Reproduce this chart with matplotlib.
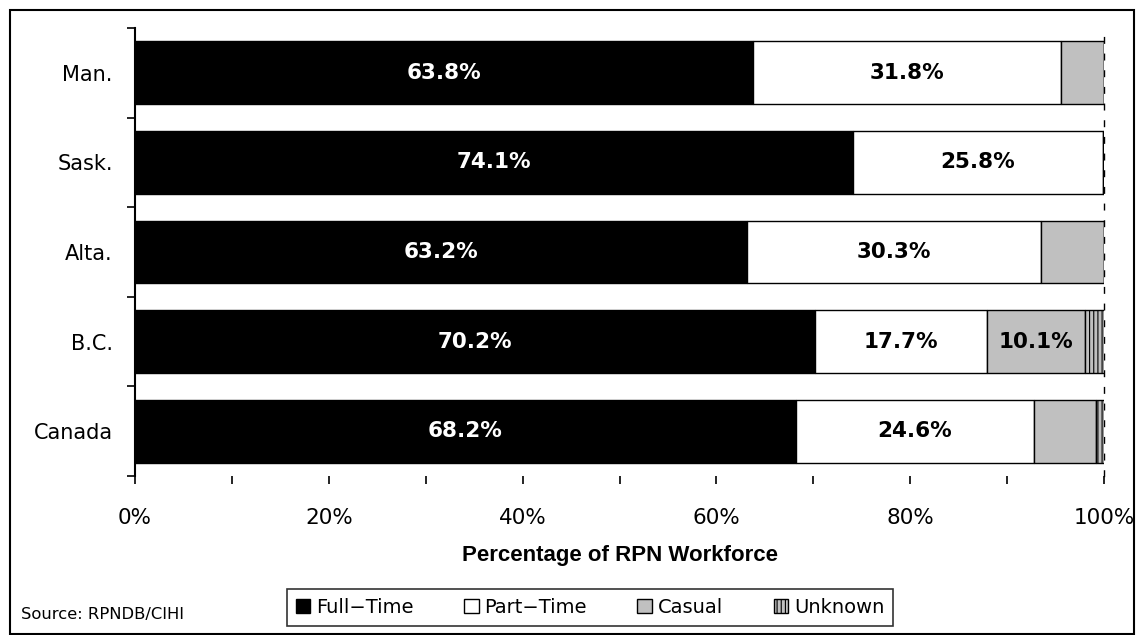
import matplotlib.pyplot as plt
from matplotlib.patches import Rectangle, Patch

plt.rcParams["font.family"] = ["DejaVu Sans"]
plt.rcParams["hatch.linewidth"] = 0.8

# data (percent of RPN workforce)
provinces = ["Man.", "Sask.", "Alta.", "B.C.", "Canada"]
full_time = [63.8, 74.1, 63.2, 70.2, 68.2]
part_time = [31.8, 25.8, 30.3, 17.7, 24.6]
casual = [4.4, 0.1, 6.5, 10.1, 6.4]
unknown = [0.0, 0.0, 0.0, 2.0, 0.8]

series = [
    ("Full-Time", full_time, "black", "white", None),
    ("Part-Time", part_time, "white", "black", None),
    ("Casual", casual, "#c0c0c0", "black", None),
    ("Unknown", unknown, "#c0c0c0", "black", "||||"),
]

fig = plt.figure(figsize=(11.36, 6.35), dpi=100)
ax = fig.add_axes([135 / 1136, 1 - 476 / 635, 969 / 1136, 448 / 635])

ypos = list(range(len(provinces)))
left = [0.0] * len(provinces)
for name, vals, color, txtcolor, hatch in series:
    ax.barh(ypos, vals, left=left, height=0.7, color=color, edgecolor="black",
            linewidth=1.0, hatch=hatch)
    for y, v, l in zip(ypos, vals, left):
        if v >= 10:
            ax.text(l + v / 2, y, f"{v:.1f}%", ha="center", va="center",
                    color=txtcolor, fontsize=15.5, fontweight="bold")
    left = [a + b for a, b in zip(left, vals)]

ax.set_xlim(0, 100)
ax.set_ylim(len(provinces) - 0.5, -0.5)
ax.set_xticks(range(0, 101, 20))
ax.set_xticks(range(10, 100, 20), minor=True)
ax.set_xticklabels([f"{t}%" for t in range(0, 101, 20)], fontsize=15.5)
ax.tick_params(axis="x", which="both", length=6, width=1.2, direction="out", pad=17)
ax.set_yticks(ypos)
ax.set_yticklabels(provinces, fontsize=15)
ax.set_yticks([i - 0.5 for i in range(len(provinces) + 1)], minor=True)
ax.tick_params(axis="y", which="major", length=0, pad=16)
ax.tick_params(axis="y", which="minor", length=6, width=1.2, direction="out")

for s in ["top", "bottom"]:
    ax.spines[s].set_visible(False)
ax.spines["left"].set_linewidth(1.5)
ax.spines["right"].set_linestyle((0, (4, 8)))
ax.spines["right"].set_linewidth(1.0)
ax.spines["right"].set_zorder(0)

fig.text(ax.get_position().x0 + ax.get_position().width / 2, 1 - 555 / 635,
         "Percentage of RPN Workforce", fontsize=16, fontweight="bold",
         family="Liberation Sans", ha="center", va="center")

handles = [Patch(facecolor=c, edgecolor="black", hatch=h, label=n.replace("-", "\u2212"))
           for n, _, c, _, h in series]
leg = fig.legend(handles=handles, loc="center", bbox_to_anchor=(590 / 1136, 1 - 607.5 / 635),
                 ncol=4, frameon=True, fancybox=False, edgecolor="black", fontsize=14,
                 handlelength=0.75, handleheight=0.75, handletextpad=0.3, columnspacing=2.6,
                 borderpad=0.45, borderaxespad=0)
leg.get_frame().set_linewidth(1.2)

fig.text(21 / 1136, 1 - 614 / 635, "Source: RPNDB/CIHI", fontsize=11.8, va="center")

fig.patches.append(Rectangle((10 / 1136, 1 / 635), 1124 / 1136, 624 / 635,
                             transform=fig.transFigure, fill=False,
                             edgecolor="black", linewidth=1.5))

plt.savefig("out.png", dpi=100)
